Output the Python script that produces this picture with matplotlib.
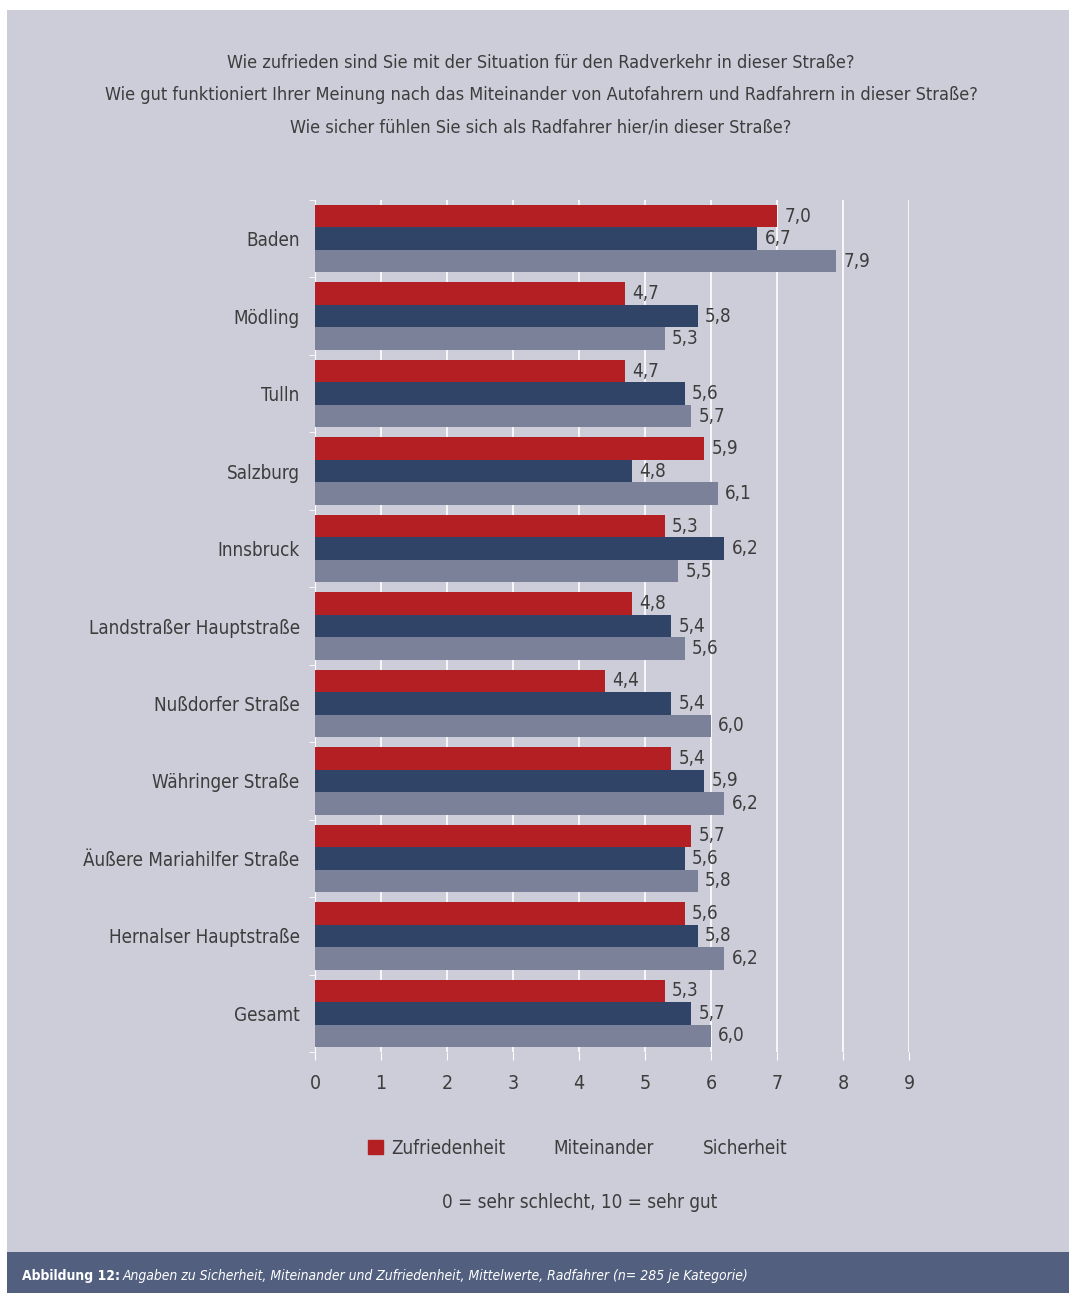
import matplotlib
matplotlib.use('Agg')
import matplotlib.pyplot as plt
import matplotlib.patches as mpatches
import numpy as np

plt.rcParams['font.family'] = ['DejaVu Sans']
plt.rcParams['font.stretch'] = 'condensed'

TITLE = ('Wie zufrieden sind Sie mit der Situation für den Radverkehr in dieser Straße?\n'
         'Wie gut funktioniert Ihrer Meinung nach das Miteinander von Autofahrern und Radfahrern in dieser Straße?\n'
         'Wie sicher fühlen Sie sich als Radfahrer hier/in dieser Straße?')

categories = ['Baden', 'Mödling', 'Tulln', 'Salzburg', 'Innsbruck',
              'Landstraßer Hauptstraße', 'Nußdorfer Straße', 'Währinger Straße',
              'Äußere Mariahilfer Straße', 'Hernalser Hauptstraße', 'Gesamt']
zufriedenheit = [7.0, 4.7, 4.7, 5.9, 5.3, 4.8, 4.4, 5.4, 5.7, 5.6, 5.3]
miteinander = [6.7, 5.8, 5.6, 4.8, 6.2, 5.4, 5.4, 5.9, 5.6, 5.8, 5.7]
sicherheit = [7.9, 5.3, 5.7, 6.1, 5.5, 5.6, 6.0, 6.2, 5.8, 6.2, 6.0]
series_names = ['Zufriedenheit', 'Miteinander', 'Sicherheit']
colors = ['#b31f22', '#304467', '#7b8199']

BG = '#cccdd8'
TXT = '#3d3d3d'

fig = plt.figure(figsize=(10.69, 12.93), dpi=100)
fig.patch.set_facecolor('white')

# Lavender panel and caption band
fig.patches.append(mpatches.Rectangle((7 / 1069, 0), 1 - 7 / 1069, 1 - 10 / 1293,
                                      transform=fig.transFigure, facecolor=BG,
                                      edgecolor='none', zorder=-10))
fig.patches.append(mpatches.Rectangle((7 / 1069, 0), 1 - 7 / 1069, 41 / 1293,
                                      transform=fig.transFigure, facecolor='#525f7e',
                                      edgecolor='none', zorder=-9))

fig.text(541 / 1069, 1 - 95 / 1293, TITLE, ha='center', va='center', fontsize=13,
         color=TXT, linespacing=2.0)

ax = fig.add_axes([315 / 1069, 1 - 1052 / 1293, (909 - 315) / 1069, (1052 - 200) / 1293])
ax.set_facecolor(BG)

n = len(categories)
y = np.arange(n)
h = 0.29
series = [zufriedenheit, miteinander, sicherheit]
for i, (vals, c) in enumerate(zip(series, colors)):
    pos = y + (i - 1) * h
    ax.barh(pos, vals, height=h, color=c, zorder=3, label=series_names[i])
    for p, v in zip(pos, vals):
        ax.text(v + 0.11, p, f'{v:.1f}'.replace('.', ','), va='center', ha='left',
                fontsize=13.5, color=TXT, zorder=4)

ax.set_ylim(n - 0.5, -0.5)
ax.set_xlim(0, 9)
ax.set_xticks(range(10))
ax.set_yticks(y)
ax.set_yticklabels(categories, fontsize=13.5, color=TXT)
ax.tick_params(axis='y', length=0, pad=11)
ax.tick_params(axis='x', length=6, color='white', labelsize=14, labelcolor=TXT, pad=10)
ax.set_yticks(np.arange(n + 1) - 0.5, minor=True)
ax.tick_params(axis='y', which='minor', length=4, color='white')
ax.grid(axis='x', color='white', linewidth=1.2, zorder=0)
for s in ['top', 'right', 'bottom']:
    ax.spines[s].set_visible(False)
ax.spines['left'].set_color('white')

# only the first legend entry shows a colour square
handles = [mpatches.Patch(color=colors[0]),
           mpatches.Patch(color='none'),
           mpatches.Patch(color='none')]
fig.legend(handles, series_names, loc='center', bbox_to_anchor=(578 / 1069, 1 - 1148 / 1293),
           ncol=3, frameon=False, fontsize=13.5, labelcolor=TXT, handlelength=0.8,
           handleheight=0.8, handletextpad=0.4, columnspacing=1.4)

fig.text(580 / 1069, 1 - 1203 / 1293, '0 = sehr schlecht, 10 = sehr gut', ha='center',
         va='center', fontsize=13.5, color=TXT)

# Caption: bold label followed by italic text
lbl = fig.text(22 / 1069, 17 / 1293, 'Abbildung 12:', ha='left', va='center', fontsize=10,
               color='white', fontweight='bold')
fig.canvas.draw()
bb = lbl.get_window_extent().transformed(fig.transFigure.inverted())
fig.text(bb.x1 + 3 / 1069, 17 / 1293,
         'Angaben zu Sicherheit, Miteinander und Zufriedenheit, Mittelwerte, Radfahrer (n= 285 je Kategorie)',
         ha='left', va='center', fontsize=10, color='white', fontstyle='italic')

fig.savefig('out.png', dpi=100, facecolor=fig.get_facecolor())
